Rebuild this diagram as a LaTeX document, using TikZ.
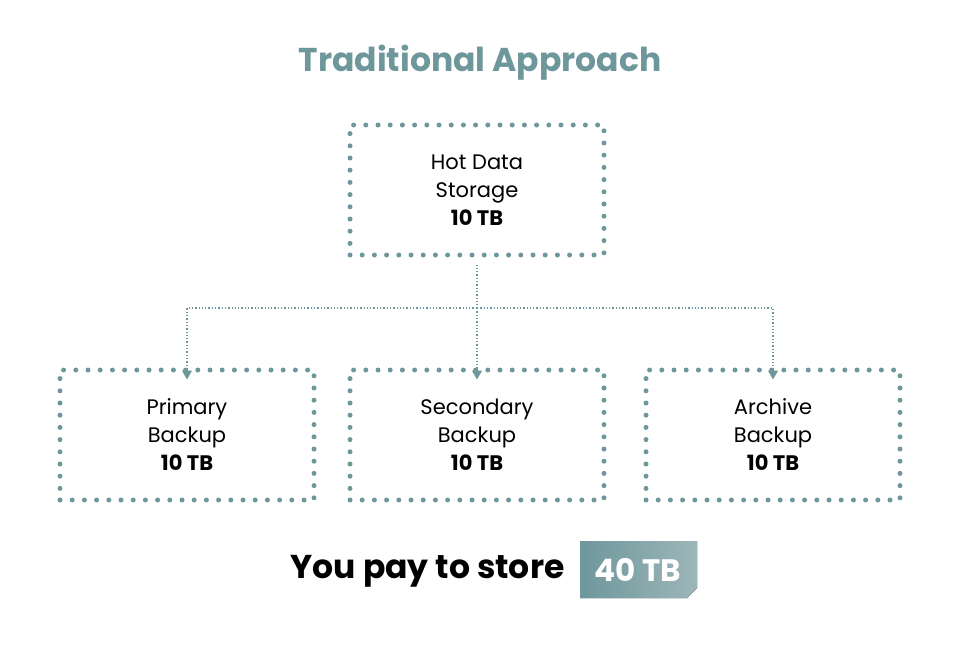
\documentclass[tikz,border=0pt]{standalone}
\usepackage{fontspec}
\setmainfont{Poppins}
\usetikzlibrary{arrows.meta}
\definecolor{teal}{HTML}{6E979B}
\definecolor{tealhi}{HTML}{9DB6B9}

\begin{document}
\begin{tikzpicture}[x=1pt,y=-1pt,>/.tip={Triangle[length=9pt,width=10pt]},
	dotbox/.style={draw=teal,line width=5pt,line cap=round,dash pattern=on 0pt off 12.2pt,minimum width=254pt,minimum height=130pt,align=center,font=\fontsize{21}{28}\selectfont},
	link/.style={draw=teal,line width=1.3pt,dash pattern=on 1.3pt off 2pt}]
	\useasboundingbox (0,0) rectangle (960,650);
	\node (title) at (480,63) {\fontsize{33}{40}\selectfont\bfseries\color{teal}Traditional Approach};
	\node (hot) [dotbox] at (477,190) {Hot Data\\Storage\\\textbf{10 TB}};
	\node (primary) [dotbox] at (187,435) {Primary\\Backup\\\textbf{10 TB}};
	\node (secondary) [dotbox] at (477,435) {Secondary\\Backup\\\textbf{10 TB}};
	\node (archive) [dotbox] at (773,435) {Archive\\Backup\\\textbf{10 TB}};
	\coordinate (split) at (477,308);
	\draw[link] (hot.south) ++(0,7) -- (split);
	\draw[link,->] (split) -| ([yshift=-12pt]primary.north);
	\draw[link,->] (split) -- ([yshift=-12pt]secondary.north);
	\draw[link,->] (split) -| ([yshift=-12pt]archive.north);
	\node (pay) [anchor=east] at (568,571) {\fontsize{33}{40}\selectfont\bfseries You pay to store};
	\fill[left color=teal,right color=tealhi] (580,541) -- (697,541) -- (697,588) -- (687,598) -- (580,598) -- cycle;
	\node (total) at (638,570) {\fontsize{31}{40}\selectfont\bfseries\color{white}40 TB};
\end{tikzpicture}
\end{document}
